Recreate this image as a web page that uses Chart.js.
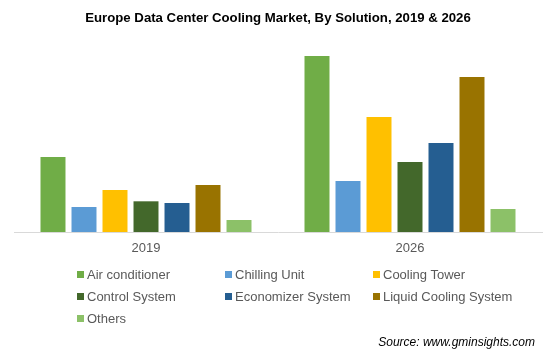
<!DOCTYPE html>
<html>
<head>
<meta charset="utf-8">
<script src="https://cdn.jsdelivr.net/npm/chart.js@4/dist/chart.umd.min.js"></script>
<style>
  html, body { margin:0; padding:0; background:#fff; }
  #wrap { position:relative; width:556px; height:362px; font-family:"Liberation Sans", Arial, sans-serif; }
  #chart { position:absolute; left:0; top:0; }
  .leg-item { position:absolute; font-size:13px; color:#595959; white-space:nowrap; line-height:16px; }
  .leg-box { display:inline-block; width:7px; height:7px; margin-right:3px; vertical-align:1px; }
  #source { position:absolute; right:21px; top:335px; font-size:12px; font-style:italic; color:#000; }
</style>
</head>
<body>
<div id="wrap">
  <canvas id="chart" width="556" height="362"></canvas>
  <div id="legend"></div>
  <div id="source">Source: www.gminsights.com</div>
</div>
<script>
(function(){
  // years on the x axis
  const years = ['2019', '2026'];
  const solutions = ['Air conditioner', 'Chilling Unit', 'Cooling Tower', 'Control System', 'Economizer System', 'Liquid Cooling System', 'Others'];
  const colors = ['#70ad47', '#5b9bd5', '#ffc000', '#43682b', '#255e91', '#997300', '#8cc168'];

  // values (relative units)
  const airConditioner = [75, 176];
  const chillingUnit = [25, 51];
  const coolingTower = [42, 115];
  const controlSystem = [30.7, 70];
  const economizerSystem = [29, 89];
  const liquidCooling = [47, 155];
  const others = [12, 23];

  const series = [airConditioner, chillingUnit, coolingTower, controlSystem, economizerSystem, liquidCooling, others];

  const datasets = series.map((d, i) => ({
    label: solutions[i],
    data: d,
    backgroundColor: colors[i],
    categoryPercentage: 0.822,
    barPercentage: 0.806
  }));

  new Chart(document.getElementById('chart').getContext('2d'), {
    type: 'bar',
    data: { labels: years, datasets },
    options: {
      responsive: false,
      animation: false,
      layout: { padding: { left: 14, right: 14, top: 0, bottom: 100 } },
      plugins: {
        legend: { display: false },
        tooltip: { enabled: false },
        title: {
          display: true,
          text: 'Europe Data Center Cooling Market, By Solution, 2019 & 2026',
          color: '#000',
          font: { family: '"Liberation Sans", Arial, sans-serif', size: 13.2, weight: 'bold' },
          padding: { top: 10, bottom: 6.2 }
        }
      },
      scales: {
        x: {
          grid: { display: false, drawTicks: false },
          border: { display: true, color: '#d9d9d9', width: 1 },
          ticks: { color: '#595959', padding: 9, font: { family: '"Liberation Sans", Arial, sans-serif', size: 13 } },
          afterFit: s => { s.height = 30; }
        },
        y: {
          display: false,
          min: 0,
          max: 200
        }
      }
    }
  });

  // html legend in three columns
  const legend = document.getElementById('legend');
  const colX = [77, 225, 373];
  const rowY = [267, 289, 311];
  solutions.forEach((name, i) => {
    const item = document.createElement('div');
    item.className = 'leg-item';
    item.style.left = colX[i % 3] + 'px';
    item.style.top = rowY[Math.floor(i / 3)] + 'px';
    item.innerHTML = '<span class="leg-box" style="background:' + colors[i] + '"></span>' + name;
    legend.appendChild(item);
  });
})();
</script>
</body>
</html>
